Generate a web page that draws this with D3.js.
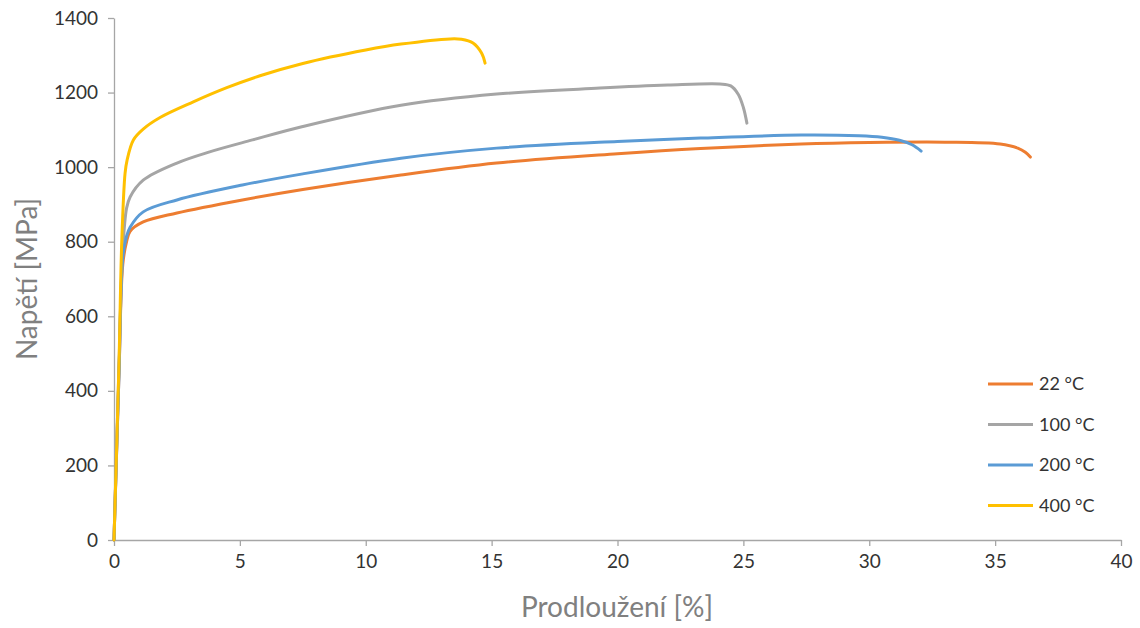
<!DOCTYPE html>
<html>
<head>
<meta charset="utf-8">
<script src="https://cdn.jsdelivr.net/npm/d3@7"></script>
<style>
  body { margin: 0; background: #fff; }
  svg { display: block; }
</style>
</head>
<body>
<svg id="chart"></svg>
<script>
(function () {
var width = 1140, height = 628

// elongation [%] / stress [MPa]
var xTicks = [0, 5, 10, 15, 20, 25, 30, 35, 40]
var yTicks = [0, 200, 400, 600, 800, 1000, 1200, 1400]
var seriesNames = ['22 °C', '100 °C', '200 °C', '400 °C']

var s22 = [[0,0],[0.2,450],[0.35,740],[0.5,800],[0.64,828],[1.16,853],[2.5,877],[5.1,912],[7.5,940],[11.4,979],[15.2,1011],[20,1036],[23.3,1050],[27.3,1062],[30,1066],[33,1067],[35.2,1062],[35.9,1051],[36.2,1040],[36.4,1027]]
var s100 = [[0,0],[0.2,470],[0.35,780],[0.5,890],[0.64,920],[1.16,965],[2.5,1011],[3.8,1041],[5.5,1073],[7.5,1109],[11.4,1166],[15.2,1196],[19.3,1212],[22,1220],[24.07,1223],[24.5,1218],[24.8,1195],[25,1160],[25.14,1118]]
var s200 = [[0,0],[0.2,450],[0.35,760],[0.5,815],[0.64,839],[1.16,880],[2.5,912],[5.1,952],[7.5,982],[11.4,1024],[15.2,1051],[20,1069],[23.3,1078],[27.3,1086],[29.6,1084],[30.5,1080],[31.2,1072],[31.7,1060],[32.06,1043]]
var s400 = [[0,0],[0.2,480],[0.31,805],[0.44,984],[0.52,1019],[0.77,1073],[1.16,1102],[1.83,1133],[3.15,1175],[4.48,1213],[5.8,1245],[7.5,1278],[10,1314],[11.4,1330],[13.35,1344],[13.8,1343],[14.26,1333],[14.6,1306],[14.74,1279]]

var colors = ['#ED7D31', '#A5A5A5', '#5B9BD5', '#FFC000']
var series = [s22, s100, s200, s400]

var svg = d3.select('#chart')
            .attr('width', width)
            .attr('height', height)

var x = d3.scaleLinear().domain([0, 40]).range([114, 1121])
var y = d3.scaleLinear().domain([0, 1400]).range([540, 18])

var axisColor = '#a6a6a6'
var font = 'Lato, "Open Sans", sans-serif'
var tickColor = '#333'

// y axis
var yAxis = svg.append('g')
    .attr('transform', 'translate(' + x(0) + ',0)')
    .call(d3.axisLeft(y).tickValues(yTicks).tickFormat(d3.format('d'))
        .tickSize(6).tickSizeOuter(0).tickPadding(10))
yAxis.select('.domain').attr('stroke', axisColor).attr('stroke-width', 1.3)
yAxis.selectAll('.tick line').attr('stroke', axisColor).attr('stroke-width', 1.3)
yAxis.selectAll('.tick text')
    .style('font', '19px ' + font)
    .attr('fill', tickColor)

// x axis
var xAxis = svg.append('g')
    .attr('transform', 'translate(0,' + y(0) + ')')
    .call(d3.axisBottom(x).tickValues(xTicks).tickFormat(d3.format('d'))
        .tickSize(6).tickSizeOuter(0).tickPadding(9))
xAxis.select('.domain').attr('stroke', axisColor).attr('stroke-width', 1.3)
xAxis.selectAll('.tick line').attr('stroke', axisColor).attr('stroke-width', 1.3)
xAxis.selectAll('.tick text')
    .style('font', '19px ' + font)
    .attr('fill', tickColor)

// axis titles
svg.append('text')
    .attr('x', 617).attr('y', 617)
    .attr('text-anchor', 'middle')
    .style('font', '28px ' + font)
    .attr('fill', '#808080')
    .text('Prodloužení [%]')

svg.append('text')
    .attr('transform', 'translate(37,279) rotate(-90)')
    .attr('text-anchor', 'middle')
    .style('font', '28px ' + font)
    .attr('fill', '#808080')
    .text('Napětí [MPa]')

// curves
var line = d3.line()
    .x((d) => x(d[0]))
    .y((d) => y(d[1]))
    .curve(d3.curveCatmullRom.alpha(0.5))

svg.selectAll('path.curve')
    .data(series)
    .enter()
    .append('path')
    .attr('class', 'curve')
    .attr('d', line)
    .attr('fill', 'none')
    .attr('stroke', (d, i) => colors[i])
    .attr('stroke-width', 3)
    .attr('stroke-linejoin', 'round')
    .attr('stroke-linecap', 'round')

// legend
var lg = svg.append('g')
    .selectAll('g')
    .data(seriesNames)
    .enter()
    .append('g')
    .attr('transform', (d, i) => 'translate(988,' + (384 + i * 40.5) + ')')

lg.append('line')
    .attr('x1', 0).attr('x2', 45)
    .attr('y1', 0).attr('y2', 0)
    .attr('stroke', (d, i) => colors[i])
    .attr('stroke-width', 3)

lg.append('text')
    .attr('x', 51).attr('y', 6)
    .style('font', '18px ' + font)
    .attr('fill', tickColor)
    .text((d) => d)
})();
</script>
</body>
</html>
